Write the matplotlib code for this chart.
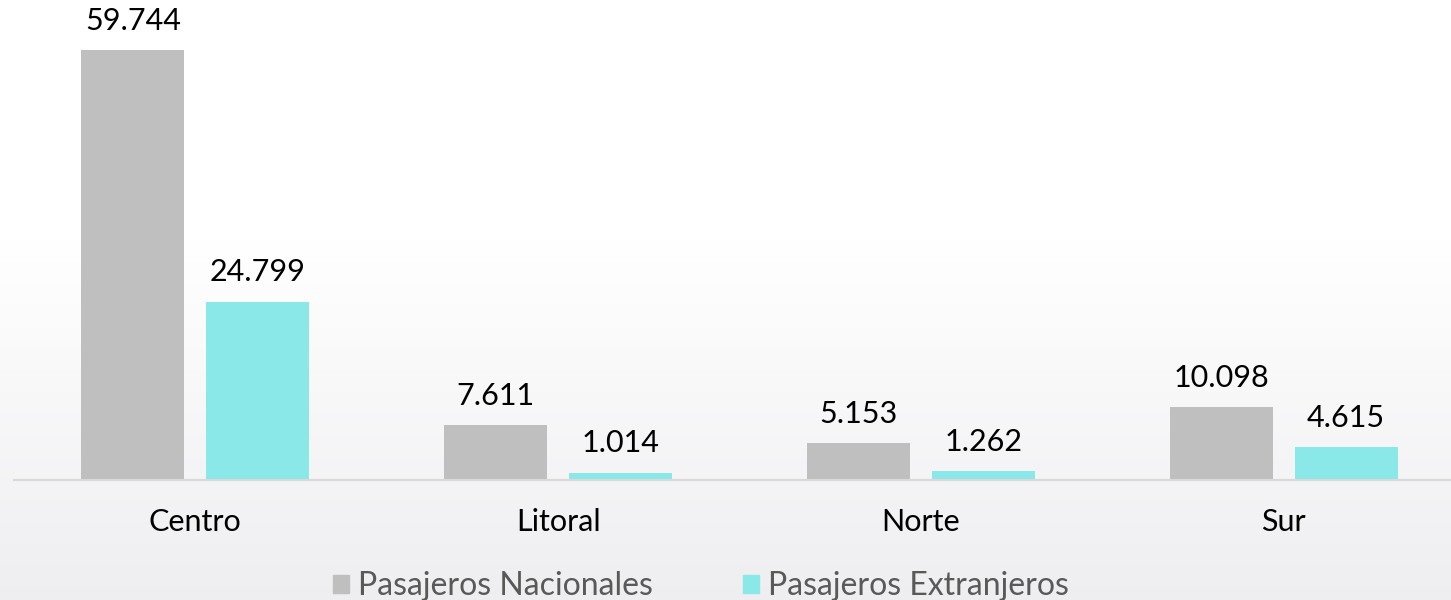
import numpy as np
import matplotlib.pyplot as plt
from matplotlib.patches import Patch

# --- DATOS ---
regiones = ["Centro", "Litoral", "Norte", "Sur"]
nacionales = [59744, 7611, 5153, 10098]
extranjeros = [24799, 1014, 1262, 4615]
series = ["Pasajeros Nacionales", "Pasajeros Extranjeros"]

c_nac = "#bfbfbf"
c_ext = "#8ae8e9"
plt.rcParams['font.family'] = ['Lato', 'DejaVu Sans']

fig = plt.figure(figsize=(14.51, 6), dpi=100)

# fondo con degradado suave
bg = fig.add_axes([0, 0, 1, 1], zorder=-10)
grad = np.linspace(0, 1, 256)[:, None]
grad = np.clip((grad - 0.4) / 0.6, 0, 1)
top = np.array([1.0, 1.0, 1.0])
bot = np.array([0.935, 0.935, 0.945])
img = top[None, None, :] * (1 - grad[:, :, None]) + bot[None, None, :] * grad[:, :, None]
bg.imshow(img, aspect='auto', extent=[0, 1, 0, 1], origin='upper')
bg.axis('off')

ax = fig.add_axes([14 / 1451, 0.2, 1.0, 0.8])
ax.patch.set_alpha(0)
x = np.arange(len(regiones))
w = 0.284
off = 0.172
b1 = ax.bar(x - off, np.array(nacionales) / 1000, w, color=c_nac)
b2 = ax.bar(x + off, np.array(extranjeros) / 1000, w, color=c_ext)

fmt = lambda v: f"{v * 1000:,.0f}".replace(",", ".")
for bars in (b1, b2):
    ax.bar_label(bars, labels=[fmt(b.get_height()) for b in bars],
                 padding=11, fontsize=22, color="black")

ax.set_xlim(-0.5, 3.5)
ax.set_ylim(0, 66.7)
ax.set_yticks([])
ax.set_xticks(x)
ax.set_xticklabels(regiones, fontsize=22)
ax.tick_params(axis='x', length=0, pad=20)
for s in ["top", "right", "left"]:
    ax.spines[s].set_visible(False)
ax.spines["bottom"].set_color("#d9d9d9")
ax.spines["bottom"].set_linewidth(1.5)

handles = [Patch(color=c_nac), Patch(color=c_ext)]
fig.legend(handles, series, loc="lower center", bbox_to_anchor=(0.483, -0.05),
           ncol=2, frameon=False, fontsize=23, labelcolor="#595959",
           handlelength=0.5, handleheight=0.5, handletextpad=0.3,
           columnspacing=2.8)

fig.savefig("out.png", dpi=100)
